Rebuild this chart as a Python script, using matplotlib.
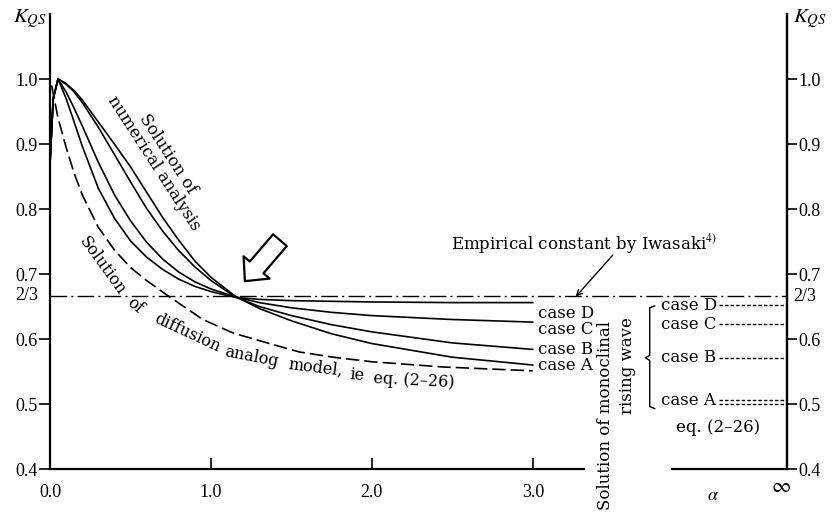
import numpy as np
import matplotlib
matplotlib.use('Agg')
from matplotlib import pyplot as plt

plt.rcParams['font.family'] = 'DejaVu Serif'
plt.rcParams['mathtext.fontset'] = 'stix'

# numerical solutions, K_QS against alpha
x_num = [0, 0.02, 0.05, 0.1, 0.15, 0.2, 0.3, 0.4, 0.5, 0.6, 0.7, 0.8, 0.9,
         1.0, 1.15, 1.3, 1.5, 1.75, 2.0, 2.5, 3.0]
case_a = [0.87, 0.97, 1.0, 0.993, 0.982, 0.968, 0.934, 0.90, 0.865, 0.826,
          0.787, 0.752, 0.72, 0.695, 0.666, 0.647, 0.628, 0.608, 0.593, 0.572, 0.56]
case_b = [0.87, 0.97, 1.0, 0.992, 0.98, 0.964, 0.926, 0.884, 0.842, 0.801,
          0.766, 0.736, 0.711, 0.69, 0.665, 0.65, 0.636, 0.622, 0.611, 0.594, 0.584]
case_c = [0.87, 0.97, 1.0, 0.98, 0.955, 0.928, 0.872, 0.822, 0.782, 0.749,
          0.723, 0.703, 0.688, 0.677, 0.665, 0.656, 0.648, 0.641, 0.636, 0.630, 0.626]
case_d = [0.87, 0.97, 1.0, 0.97, 0.934, 0.897, 0.832, 0.786, 0.751, 0.726,
          0.707, 0.692, 0.681, 0.673, 0.664, 0.661, 0.659, 0.658, 0.657, 0.656, 0.656]

# diffusion analog model, eq. (2-26)
x_dif = [0.01, 0.05, 0.1, 0.15, 0.2, 0.3, 0.4, 0.5, 0.6, 0.73, 0.95, 1.14,
         1.35, 1.55, 1.76, 2.0, 2.44, 3.0]
y_dif = [0.99, 0.94, 0.895, 0.855, 0.822, 0.772, 0.737, 0.71, 0.69, 0.667,
         0.63, 0.609, 0.594, 0.58, 0.572, 0.565, 0.557, 0.551]

case_names = ['case A', 'case B', 'case C', 'case D']
# monoclinal rising wave (alpha -> infinity)
inf_values = [0.506, 0.571, 0.623, 0.652]
eq_inf = 0.5
k_iwasaki = 2 / 3

y_ticks = [0.4, 0.5, 0.6, 0.7, 0.8, 0.9, 1.0]
x_ticks = [0.0, 1.0, 2.0, 3.0]

W, H = 834, 512
TICK_FONT = 'Liberation Serif'


def fpos(px, py):
    return px / W, 1 - py / H


fig = plt.figure(figsize=(W / 100, H / 100), dpi=100)
ax = fig.add_axes([50 / W, 43 / H, 737 / W, 455 / H])
ax.set_xlim(0, 4.58)
ax.set_ylim(0.4, 1.1)

ax.spines['top'].set_visible(False)
for s in ['left', 'right', 'bottom']:
    ax.spines[s].set_linewidth(1.6)
ax.spines['bottom'].set_bounds(0, 3.32)

ax.set_xticks(x_ticks)
ax.set_xticklabels(['%.1f' % v for v in x_ticks], fontfamily=TICK_FONT)
ax.tick_params(axis='x', direction='in', length=8, width=1.2, pad=11, labelsize=13)
ax.set_yticks(y_ticks)
ax.set_yticklabels(['%.1f' % v for v in y_ticks], fontfamily=TICK_FONT)
ax.tick_params(axis='y', direction='out', length=8, width=1.2, pad=1, labelsize=13)

tw = ax.twinx()
tw.set_ylim(ax.get_ylim())
tw.set_yticks(y_ticks)
tw.set_yticklabels(['%.1f' % v for v in y_ticks], fontfamily=TICK_FONT)
tw.tick_params(axis='y', direction='out', length=7, width=1.2, pad=1, labelsize=13)
for s in ['top', 'left', 'bottom']:
    tw.spines[s].set_visible(False)
tw.spines['right'].set_linewidth(1.6)

# second piece of the broken alpha axis
ax.hlines(0.4, 3.86, 4.58, color='black', lw=1.6, clip_on=False)

curves = [case_a, case_b, case_c, case_d]
for vals in curves:
    ax.plot(x_num, vals, color='black', lw=1.2)
ax.plot(x_dif, y_dif, color='black', lw=1.2, dashes=(8, 3))
ax.axhline(k_iwasaki, color='black', lw=1.0, dashes=(12, 3, 1.5, 3))

# case labels at the end of the curves
offsets = [0.0, 0.0, -0.012, -0.016]
for name, vals, off in zip(case_names, curves, offsets):
    ax.text(3.03, vals[-1] + off, name, ha='left', va='center', fontsize=12)

# alpha -> infinity values
ax.hlines(inf_values + [eq_inf], 4.16, 4.58, color='black', lw=1.0,
          linestyles=(0, (2.5, 1.5)))
for name, v in zip(case_names, inf_values):
    ax.text(3.80, v, name, ha='left', va='center', fontsize=12)
ax.plot([3.758, 3.727, 3.727, 3.70, 3.727, 3.727, 3.758],
        [0.651, 0.648, 0.575, 0.571, 0.567, 0.496, 0.493], color='black', lw=1.0)
fig.text(*fpos(718, 427), 'eq. (2–26)', ha='center', va='center', fontsize=12)

fig.text(*fpos(605, 415), 'Solution of monoclinal', rotation=90,
         ha='center', va='center', fontsize=12)
fig.text(*fpos(628, 366), 'rising wave', rotation=90,
         ha='center', va='center', fontsize=12)

# left / right labels
ax.text(-0.016, k_iwasaki, '2/3', transform=ax.get_yaxis_transform(),
        ha='right', va='center', fontsize=13, fontfamily=TICK_FONT)
ax.text(1.008, k_iwasaki - 0.002, '2/3', transform=ax.get_yaxis_transform(),
        ha='left', va='center', fontsize=13, fontfamily=TICK_FONT)
fig.text(*fpos(30, 19), r'$K_{QS}$', ha='center', va='center', fontsize=15)
fig.text(*fpos(810, 19), r'$K_{QS}$', ha='center', va='center', fontsize=15)
fig.text(*fpos(713, 495), r'$\alpha$', ha='center', va='center', fontsize=13)
fig.text(*fpos(781, 486), r'$\infty$', ha='center', va='center', fontsize=15)

# annotations
ax.text(0.69, 0.878, 'Solution of\nnumerical analysis', rotation=-57,
        rotation_mode='anchor', ha='center', va='center', fontsize=12,
        multialignment='center', linespacing=1.0)

words = [('Solution', 102, 266, -54), ('of', 135, 306, -40),
         ('diffusion', 187, 333, -25), ('analog', 252, 357, -11),
         ('model,', 315, 368, -7), ('ie', 357, 375, -5),
         ('eq. (2–26)', 414, 381, -3)]
for w, px, py, rot in words:
    fig.text(*fpos(px, py), w, rotation=rot, rotation_mode='anchor',
             ha='center', va='center', fontsize=11.5)

ax.text(3.32, 0.746, r'Empirical constant by Iwasaki$^{4)}$', ha='center',
        va='center', fontsize=12)
ax.annotate('', xy=(3.267, 0.665), xytext=(3.497, 0.729),
            arrowprops=dict(arrowstyle='->', color='black', lw=1.0,
                            shrinkA=0, shrinkB=0))
ax.annotate('', xy=(1.211, 0.689), xytext=(1.429, 0.752),
            arrowprops=dict(arrowstyle='simple,head_length=1.0,head_width=1.9,tail_width=1.0',
                            mutation_scale=13, fc='white', ec='black', lw=1.6,
                            shrinkA=0, shrinkB=0))

plt.savefig('out.png', dpi=100)
